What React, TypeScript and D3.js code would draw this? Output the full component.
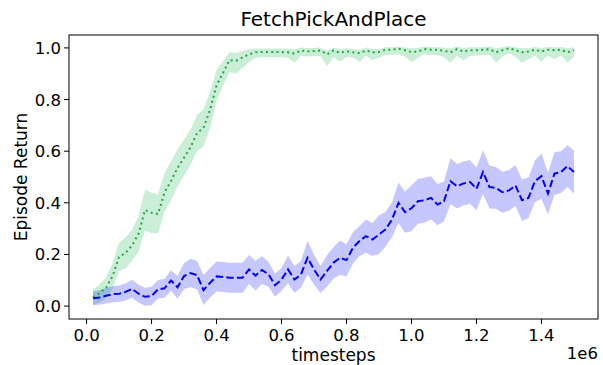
import React from "react";
import * as d3 from "d3";

// Evaluation steps (in units of 1e6 timesteps)
const steps: number[] = Array.from({ length: 75 }, (_, i) => (i + 1) * 0.02);

const greenMean: number[] = [
  0.035, 0.049, 0.071, 0.116, 0.19, 0.206, 0.235, 0.28, 0.372, 0.361,
  0.357, 0.44, 0.485, 0.535, 0.575, 0.615, 0.67, 0.69, 0.76, 0.855,
  0.903, 0.953, 0.95, 0.963, 0.975, 0.983, 0.984, 0.984, 0.984, 0.984,
  0.983, 0.978, 0.99, 0.987, 0.988, 0.99, 0.975, 0.99, 0.981, 0.987,
  0.983, 0.98, 0.99, 0.983, 0.984, 0.993, 0.993, 0.997, 0.991, 0.984,
  0.986, 0.995, 0.993, 0.993, 0.989, 0.983, 0.995, 0.986, 0.991, 0.991,
  0.993, 0.995, 0.983, 0.991, 0.999, 0.991, 0.983, 0.986, 0.993, 0.986,
  0.993, 0.991, 0.993, 0.983, 0.991,
];
const greenUp: number[] = [
  0.03, 0.035, 0.04, 0.05, 0.055, 0.06, 0.06, 0.07, 0.08, 0.078,
  0.076, 0.075, 0.075, 0.072, 0.07, 0.068, 0.07, 0.072, 0.07, 0.06,
  0.045, 0.03, 0.03, 0.025, 0.02, 0.015, 0.014, 0.014, 0.014, 0.014,
  0.015, 0.016, 0.012, 0.013, 0.012, 0.012, 0.014, 0.012, 0.013, 0.012,
  0.013, 0.014, 0.012, 0.013, 0.013, 0.01, 0.01, 0.008, 0.011, 0.015,
  0.014, 0.01, 0.011, 0.011, 0.012, 0.016, 0.01, 0.014, 0.012, 0.012,
  0.011, 0.01, 0.016, 0.012, 0.008, 0.012, 0.016, 0.014, 0.011, 0.014,
  0.011, 0.012, 0.011, 0.016, 0.012,
];
const greenDown: number[] = [
  0.03, 0.035, 0.04, 0.05, 0.055, 0.06, 0.06, 0.07, 0.08, 0.078,
  0.076, 0.075, 0.075, 0.072, 0.07, 0.068, 0.07, 0.072, 0.07, 0.06,
  0.05, 0.045, 0.05, 0.04, 0.03, 0.022, 0.02, 0.02, 0.02, 0.02,
  0.022, 0.035, 0.02, 0.02, 0.02, 0.022, 0.045, 0.025, 0.035, 0.022,
  0.02, 0.035, 0.02, 0.03, 0.022, 0.02, 0.02, 0.022, 0.025, 0.04,
  0.025, 0.02, 0.02, 0.02, 0.025, 0.04, 0.025, 0.035, 0.022, 0.02,
  0.02, 0.022, 0.04, 0.025, 0.02, 0.025, 0.04, 0.03, 0.022, 0.04,
  0.022, 0.035, 0.022, 0.04, 0.025,
];

const blueMean: number[] = [
  0.03, 0.033, 0.04, 0.046, 0.048, 0.055, 0.067, 0.048, 0.036, 0.039,
  0.065, 0.069, 0.099, 0.073, 0.116, 0.128, 0.12, 0.062, 0.09, 0.115,
  0.113, 0.11, 0.11, 0.11, 0.142, 0.118, 0.14, 0.123, 0.081, 0.103,
  0.142, 0.103, 0.123, 0.187, 0.142, 0.103, 0.136, 0.168, 0.187, 0.178,
  0.226, 0.252, 0.271, 0.258, 0.277, 0.297, 0.335, 0.4, 0.364, 0.379,
  0.406, 0.41, 0.419, 0.393, 0.406, 0.484, 0.464, 0.475, 0.481, 0.454,
  0.519, 0.461, 0.458, 0.441, 0.448, 0.467, 0.41, 0.419, 0.484, 0.503,
  0.436, 0.513, 0.519, 0.542, 0.519,
];
const blueSpread: number[] = [
  0.027, 0.028, 0.03, 0.031, 0.032, 0.033, 0.035, 0.035, 0.035, 0.036,
  0.036, 0.037, 0.04, 0.045, 0.05, 0.055, 0.055, 0.058, 0.058, 0.058,
  0.058, 0.058, 0.058, 0.058, 0.056, 0.058, 0.054, 0.048, 0.045, 0.045,
  0.054, 0.052, 0.052, 0.066, 0.058, 0.052, 0.061, 0.061, 0.067, 0.062,
  0.061, 0.058, 0.064, 0.064, 0.075, 0.067, 0.067, 0.079, 0.08, 0.088,
  0.087, 0.087, 0.084, 0.08, 0.077, 0.09, 0.086, 0.085, 0.085, 0.083,
  0.085, 0.083, 0.081, 0.079, 0.079, 0.079, 0.08, 0.079, 0.081, 0.088,
  0.08, 0.083, 0.081, 0.081, 0.084,
];

const xTicks: number[] = [0, 0.2, 0.4, 0.6, 0.8, 1.0, 1.2, 1.4];
const yTicks: number[] = [0, 0.2, 0.4, 0.6, 0.8, 1.0];

const W = 603;
const H = 365;
const M = { left: 69, right: 5, top: 35, bottom: 46 };
const FONT = "DejaVu Sans, sans-serif";

export default function App() {
  const x = d3.scaleLinear().domain([-0.054, 1.574]).range([M.left, W - M.right]);
  const y = d3.scaleLinear().domain([-0.05, 1.05]).range([H - M.bottom, M.top]);

  const line = d3
    .line<number>()
    .x((_, i) => x(steps[i]))
    .y((v) => y(v));

  const area = (lo: number[], hi: number[]) =>
    d3
      .area<number>()
      .x((_, i) => x(steps[i]))
      .y0((_, i) => y(lo[i]))
      .y1((_, i) => y(hi[i]))(steps) as string;

  const gLo = greenMean.map((m, i) => m - greenDown[i]);
  const gHi = greenMean.map((m, i) => m + greenUp[i]);
  const bLo = blueMean.map((m, i) => m - blueSpread[i]);
  const bHi = blueMean.map((m, i) => m + blueSpread[i]);

  const bottom = H - M.bottom;
  const right = W - M.right;

  return (
    <svg
      width={W}
      height={H}
      style={{ position: "absolute", left: 0, top: 0, background: "#fff" }}
      fontFamily={FONT}
    >
      <rect x={0} y={0} width={W} height={H} fill="#fff" />
      <path d={area(gLo, gHi)} fill="#2bbf5a" fillOpacity={0.25} />
      <path d={area(bLo, bHi)} fill="#0000ff" fillOpacity={0.22} />
      <path
        d={line(greenMean) as string}
        fill="none"
        stroke="#1fa845"
        strokeWidth={2}
        strokeDasharray="2,3.3"
      />
      <path
        d={line(blueMean) as string}
        fill="none"
        stroke="#0000ff"
        strokeWidth={2}
        strokeDasharray="7.4,3.2"
      />

      {/* frame */}
      <rect
        x={M.left}
        y={M.top}
        width={right - M.left}
        height={bottom - M.top}
        fill="none"
        stroke="#000"
        strokeWidth={1}
      />

      {/* x axis */}
      {xTicks.map((t) => (
        <g key={"x" + t}>
          <line x1={x(t)} x2={x(t)} y1={bottom} y2={bottom + 5} stroke="#000" strokeWidth={1} />
          <text x={x(t)} y={bottom + 22} textAnchor="middle" fontSize={16.5} fill="#000">
            {t.toFixed(1)}
          </text>
        </g>
      ))}
      <text x={right} y={H - 6} textAnchor="end" fontSize={16.5} fill="#000">
        1e6
      </text>
      <text x={(M.left + right) / 2} y={H - 4} textAnchor="middle" fontSize={17} fill="#000">
        timesteps
      </text>

      {/* y axis */}
      {yTicks.map((t) => (
        <g key={"y" + t}>
          <line x1={M.left - 5} x2={M.left} y1={y(t)} y2={y(t)} stroke="#000" strokeWidth={1} />
          <text x={M.left - 8} y={y(t) + 6} textAnchor="end" fontSize={16.5} fill="#000">
            {t.toFixed(1)}
          </text>
        </g>
      ))}
      <text
        transform={`translate(27,${(M.top + bottom) / 2}) rotate(-90)`}
        textAnchor="middle"
        fontSize={17}
        fill="#000"
      >
        Episode Return
      </text>

      <text x={(M.left + right) / 2} y={26} textAnchor="middle" fontSize={20} fill="#000">
        FetchPickAndPlace
      </text>
    </svg>
  );
}
